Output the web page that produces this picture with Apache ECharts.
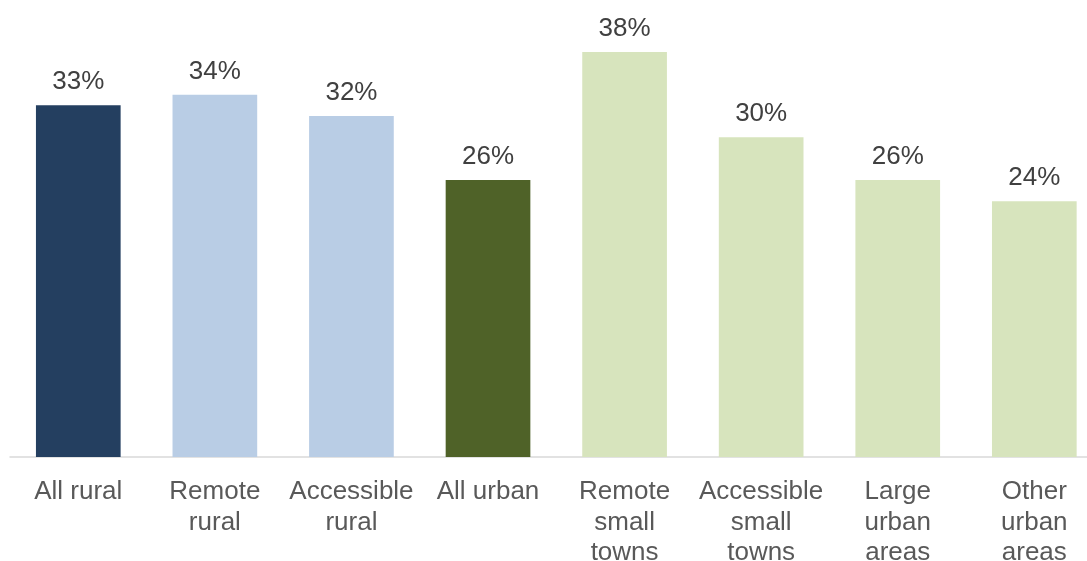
<!DOCTYPE html>
<html>
<head>
<meta charset="utf-8">
<style>
  html, body { margin: 0; padding: 0; background: #ffffff; }
  #chart { width: 1087px; height: 561px; }
</style>
<script src="https://cdn.jsdelivr.net/npm/echarts@6/dist/echarts.min.js"></script>
</head>
<body>
<div id="chart"></div>
<script>
// Share of each area type (percent)
const categories = [
  'All rural', 'Remote\nrural', 'Accessible\nrural', 'All urban',
  'Remote\nsmall\ntowns', 'Accessible\nsmall\ntowns', 'Large\nurban\nareas', 'Other\nurban\nareas'
];
const values = [33, 34, 32, 26, 38, 30, 26, 24];
const barColors = ['#243f60', '#b9cde5', '#b9cde5', '#4f6228', '#d7e4bd', '#d7e4bd', '#d7e4bd', '#d7e4bd'];

const chart = echarts.init(document.getElementById('chart'), null, { renderer: 'canvas' });

chart.setOption({
  animation: false,
  backgroundColor: '#ffffff',
  grid: {
    left: 10, top: 30.7, width: 1092.6, height: 426.3,
    containLabel: false, outerBoundsMode: 'none'
  },
  xAxis: {
    type: 'category',
    data: categories,
    axisLine: { show: true, lineStyle: { color: '#d9d9d9', width: 1.5 } },
    axisTick: { show: false },
    axisLabel: {
      interval: 0,
      margin: 20,
      color: '#595959',
      fontFamily: 'Liberation Sans, Arial, sans-serif',
      fontSize: 26,
      lineHeight: 30.5,
      hideOverlap: false
    }
  },
  yAxis: {
    type: 'value',
    min: 0,
    max: 40,
    show: false,
    splitLine: { show: false }
  },
  series: [{
    type: 'bar',
    data: values.map((v, i) => ({ value: v, itemStyle: { color: barColors[i] } })),
    barWidth: '62%',
    label: {
      show: true,
      position: 'top',
      distance: 10,
      formatter: p => p.value + '%',
      color: '#404040',
      fontFamily: 'Liberation Sans, Arial, sans-serif',
      fontSize: 26
    }
  }]
});
</script>
</body>
</html>
